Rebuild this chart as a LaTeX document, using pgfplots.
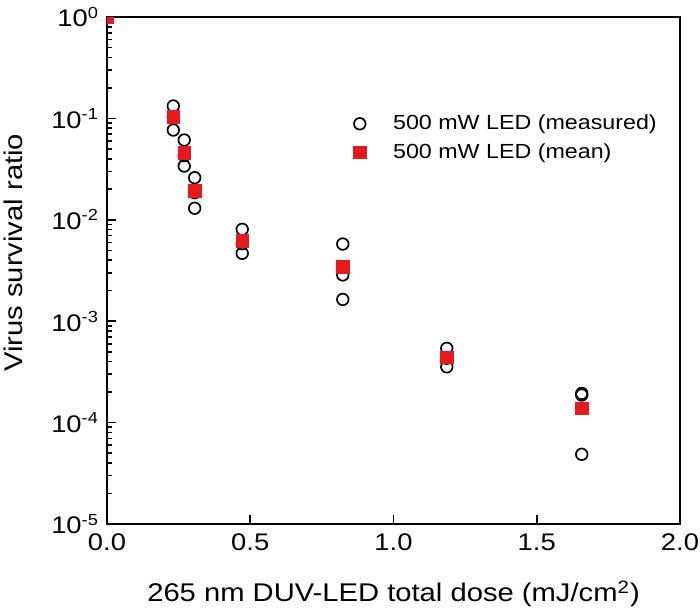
\documentclass[border=0pt]{standalone}
\usepackage{fontspec}
\setmainfont{Liberation Sans}[FakeStretch=1.14]
\usepackage{pgfplots}
\pgfplotsset{compat=1.18}
\definecolor{mred}{RGB}{230,25,30}
\begin{document}
\begin{tikzpicture}
\useasboundingbox (-53.5pt,-43.5pt) rectangle (296.5pt,262pt);
\begin{axis}[
  scale only axis,
  width=286.5pt, height=253.5pt,
  ymode=log,
  xmin=0, xmax=2, ymin=1e-5, ymax=1,
  axis line style={line width=1pt},
  tick align=inside,
  xtick pos=bottom, ytick pos=left,
  major tick length=4.5pt, minor tick length=2.5pt,
  every tick/.style={black, line width=0.8pt},
  xtick={0,0.5,1,1.5,2},
  xticklabels={0.0,0.5,1.0,1.5,2.0},
  ytick={1e-5,1e-4,1e-3,1e-2,1e-1,1},
  yticklabels={10\textsuperscript{-5},10\textsuperscript{-4},10\textsuperscript{-3},10\textsuperscript{-2},10\textsuperscript{-1},10\textsuperscript{0}},
  ticklabel style={font=\fontsize{12pt}{14pt}\selectfont},
  xticklabel style={yshift=-1.5pt},
  yticklabel style={xshift=-0.5pt},
  xlabel={265 nm DUV-LED total dose (mJ/cm\textsuperscript{2})},
  xlabel style={font=\fontsize{12.8pt}{15pt}\selectfont, at={(axis description cs:0.5,-0.1538)}, anchor=base},
  ylabel={Virus survival ratio},
  ylabel style={font=\fontsize{12.8pt}{15pt}\selectfont, at={(axis description cs:-0.164,0.535)}, anchor=center, rotate=0},
  clip marker paths=true,
  legend style={draw=none, fill=none, font=\fontsize{10.2pt}{13pt}\selectfont,
    at={(axis description cs:0.419,0.761)}, anchor=west, row sep=1.5pt, column sep=11.5pt},
  legend cell align=left,
]
\addplot[only marks, mark=o, mark size=2.9pt, black, line width=0.85pt] coordinates {
(0.2315,0.1325) (0.2315,0.103) (0.2315,0.0768)
(0.2696,0.0612) (0.2696,0.043) (0.2696,0.0339)
(0.306,0.026) (0.306,0.0185) (0.306,0.013)
(0.472,0.00805) (0.472,0.0058) (0.472,0.00467)
(0.823,0.00577) (0.823,0.00286) (0.823,0.00164)
(1.186,5.40e-4) (1.186,4.31e-4) (1.186,3.55e-4)
(1.657,1.94e-4) (1.657,1.87e-4) (1.657,4.87e-5)
};
\addlegendentry{500 mW LED (measured)}
\addplot[only marks, mark=square*, mark size=3.15pt, mred, draw=none, mark options={draw=none, fill=mred}] coordinates {
(0,1) (0.2315,0.104) (0.2696,0.0459) (0.306,0.0194) (0.472,0.00618) (0.823,0.00345) (1.186,4.41e-4) (1.657,1.38e-4)
};
\addlegendentry{500 mW LED (mean)}
\end{axis}
\end{tikzpicture}
\end{document}
